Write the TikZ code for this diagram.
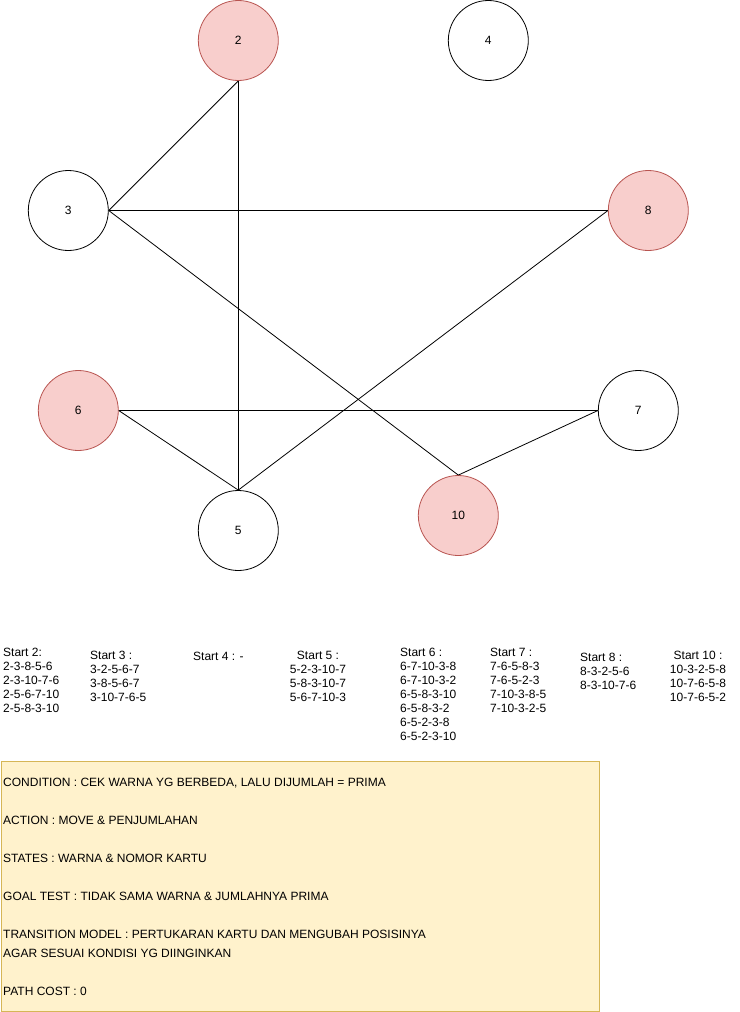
\documentclass[tikz,border=0pt]{standalone}
\usepackage{fontspec}
\setmainfont{Liberation Sans}
\definecolor{redfill}{HTML}{F8CECC}
\definecolor{redline}{HTML}{B85450}
\definecolor{yelfill}{HTML}{FFF2CC}
\definecolor{yelline}{HTML}{D6B656}
\begin{document}
\begin{tikzpicture}[x=1pt,y=-1pt,
  state/.style={circle,draw=black,fill=white,minimum size=80pt,inner sep=0pt,line width=0.8pt,font=\fontsize{12}{14}\selectfont},
  hot/.style={state,draw=redline,fill=redfill},
  edge/.style={draw=black,line width=0.8pt},
  list/.style={inner sep=0pt,font=\fontsize{12}{14}\selectfont},
  info/.style={inner sep=0pt,font=\fontsize{12}{19}\selectfont,align=left,anchor=north west}]
\useasboundingbox (0,0) rectangle (739,1012);
\node[hot]   (n2)  at (238.3,40.5) {2};
\node[state] (n4)  at (488.3,40.5) {4};
\node[state] (n3)  at (68.3,210.5) {3};
\node[hot]   (n8)  at (648.3,210.5) {8};
\node[hot]   (n6)  at (78.3,410.5) {6};
\node[state] (n7)  at (638.3,410.5) {7};
\node[state] (n5)  at (238.3,530.5) {5};
\node[hot]   (n10) at (458.3,515.5) {10};
\draw[edge] (n2.south) -- (n3.east);
\draw[edge] (n2.south) -- (n5.north);
\draw[edge] (n3.east) -- (n8.west);
\draw[edge] (n3.east) -- (n10.north);
\draw[edge] (n6.east) -- (n7.west);
\draw[edge] (n6.east) -- (n5.north);
\draw[edge] (n8.west) -- (n5.north);
\draw[edge] (n10.north) -- (n7.west);
\node[list,align=left,anchor=north west] (s2) at (3,647.5) {Start 2:\\2-3-8-5-6\\2-3-10-7-6\\2-5-6-7-10\\2-5-8-3-10};
\node[list,align=left,anchor=north west] (s3) at (90,650.5) {Start 3 :\\3-2-5-6-7\\3-8-5-6-7\\3-10-7-6-5};
\node[list,align=left,anchor=north west] (s4) at (193,651.5) {Start 4 : -};
\node[list,align=center,anchor=north] (s5) at (318,650.5) {Start 5 :\\5-2-3-10-7\\5-8-3-10-7\\5-6-7-10-3};
\node[list,align=left,anchor=north west] (s6) at (400,647.5) {Start 6 :\\6-7-10-3-8\\6-7-10-3-2\\6-5-8-3-10\\6-5-8-3-2\\6-5-2-3-8\\6-5-2-3-10};
\node[list,align=left,anchor=north west] (s7) at (490,647.5) {Start 7 :\\7-6-5-8-3\\7-6-5-2-3\\7-10-3-8-5\\7-10-3-2-5};
\node[list,align=left,anchor=north west] (s8) at (580,652.5) {Start 8 :\\8-3-2-5-6\\8-3-10-7-6};
\node[list,align=center,anchor=north] (s10) at (698,650.5) {Start 10 :\\10-3-2-5-8\\10-7-6-5-8\\10-7-6-5-2};
\node[draw=yelline,fill=yelfill,line width=0.8pt,minimum width=598pt,minimum height=250pt,anchor=north west,inner sep=0pt] (box) at (0.5,760.5) {};
\node[info] (t) at (3,777.5) {CONDITION : CEK WARNA YG BERBEDA, LALU DIJUMLAH = PRIMA\\[19pt]ACTION : MOVE \& PENJUMLAHAN\\[19pt]STATES : WARNA \& NOMOR KARTU\\[19pt]GOAL TEST : TIDAK SAMA WARNA \& JUMLAHNYA PRIMA\\[19pt]TRANSITION MODEL : PERTUKARAN KARTU DAN MENGUBAH POSISINYA\\AGAR SESUAI KONDISI YG DIINGINKAN\\[19pt]PATH COST : 0};
\end{tikzpicture}
\end{document}
